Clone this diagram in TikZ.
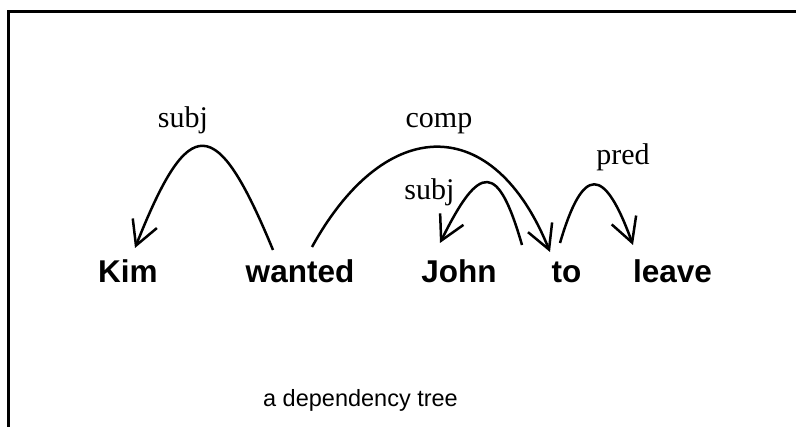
\documentclass[tikz,border=0pt]{standalone}
\usepackage{fontspec}
\setmainfont{Liberation Serif}
\setsansfont{Liberation Sans}
\usetikzlibrary{arrows.meta}
\begin{document}
\begin{tikzpicture}[x=1pt,y=-1pt,
  word/.style={font=\sffamily\bfseries\fontsize{31.5}{31.5}\selectfont, anchor=base, inner sep=0pt},
  rel/.style={font=\fontsize{30}{30}\selectfont, anchor=base, inner sep=0pt},
  arc/.style={line width=2.5pt, -{Straight Barb[length=24pt,width=26pt]}},
]
\useasboundingbox (0,0) rectangle (796,427);
% frame
\draw[line width=2.7pt] (8.5,430) |- (800,11.5);

% words
\node[word] (kim)    at (128,283)   {Kim};
\node[word] (wanted) at (300,283)   {wanted};
\node[word] (john)   at (459,283)   {John};
\node[word] (to)     at (566.5,283) {to};
\node[word] (leave)  at (672.5,283) {leave};

% relation labels
\node[rel] (lsubj1) at (183,128)   {subj};
\node[rel] (lcomp)  at (439,128)   {comp};
\node[rel] (lsubj2) at (429.5,200) {subj};
\node[rel] (lpred)  at (623,165)   {pred};

% caption
\node[font=\sffamily\fontsize{23.5}{23.5}\selectfont, anchor=base, inner sep=0pt] (cap) at (360.5,407) {a dependency tree};

% dependency arcs
\draw[arc] ([shift={(-27,-33)}]wanted.base) .. controls (216,112) and (189,112) .. ([shift={(7,-35)}]kim.base);
\draw[arc] ([shift={(12,-36)}]wanted.base) .. controls (386,113) and (494,113) .. ([shift={(-16.5,-31)}]to.base);
\draw[arc] ([shift={(-44.5,-38)}]to.base) .. controls (498,162) and (480,162) .. ([shift={(-19,-40)}]john.base);
\draw[arc] ([shift={(-6.5,-40)}]to.base) .. controls (583,165) and (604,165) .. ([shift={(-39.5,-38)}]leave.base);
\end{tikzpicture}
\end{document}
